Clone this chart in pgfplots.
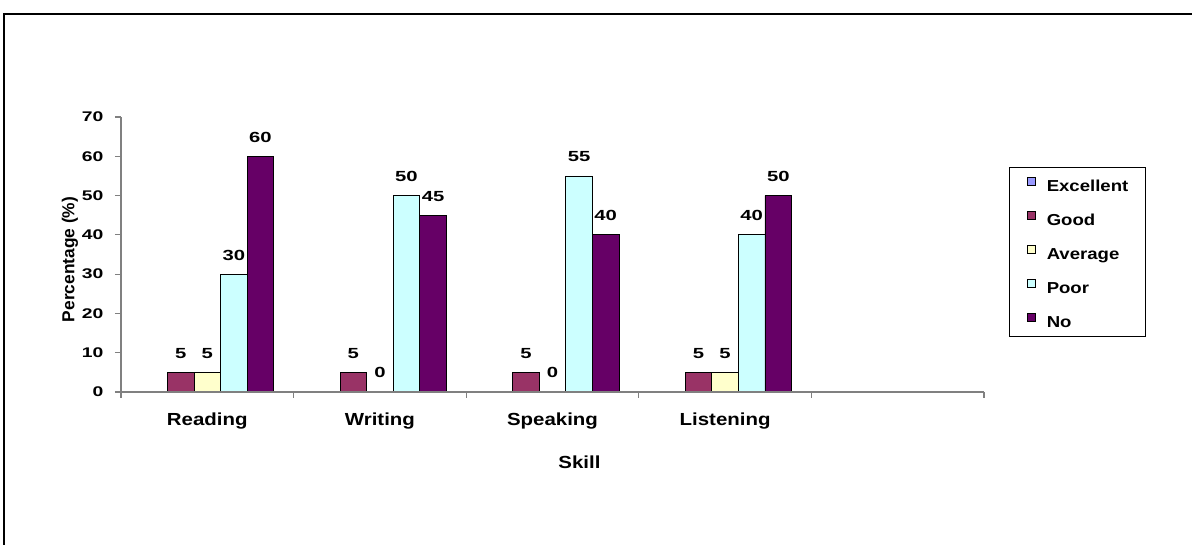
\documentclass[border=0pt]{standalone}
\usepackage{pgfplots}
\pgfplotsset{compat=1.18}
\usepackage{fontspec}
\setmainfont{Liberation Sans}
% wide faces for numbers and for text
\newfontfamily\numfam{Liberation Sans}[FakeStretch=1.38]
\newfontfamily\txtfam{Liberation Sans}[FakeStretch=1.17]
\newcommand\yfont{\numfam\bfseries\fontsize{10.5}{12}\selectfont}
\newcommand\barfont{\numfam\bfseries\fontsize{11}{12}\selectfont}
\newcommand\catfont{\txtfam\bfseries\fontsize{13.1}{15}\selectfont}
\newcommand\legfont{\txtfam\bfseries\fontsize{11.9}{14}\selectfont}
\newcommand\ylabfont{\bfseries\fontsize{13}{15}\selectfont}

\definecolor{cExc}{HTML}{9999FF}
\definecolor{cGood}{HTML}{993366}
\definecolor{cAvg}{HTML}{FFFFCC}
\definecolor{cPoor}{HTML}{CCFFFF}
\definecolor{cNo}{HTML}{660066}
\definecolor{axgray}{HTML}{808080}

\begin{document}
\begin{tikzpicture}[x=0.75pt,y=0.75pt]
\begin{axis}[
  scale only axis, width=647.25pt, height=206.25pt,
  xmin=-0.5, xmax=4.5, ymin=0, ymax=70,
  ybar, bar width=0.154,
  axis on top,
  axis x line*=bottom, axis y line*=left,
  axis line style={axgray, line width=0.9pt, -},
  tick style={axgray, line width=0.9pt},
  tick align=outside, major tick length=4.5pt,
  /pgf/number format/assume math mode=true,
  ytick={0,10,20,30,40,50,60,70},
  yticklabels={0,10,20,30,40,50,60,70},
  yticklabel style={font=\yfont, inner sep=0pt, xshift=-8.5pt},
  xtick={-0.5,0.5,1.5,2.5,3.5,4.5},
  xticklabels={},
  extra x ticks={0,1,2,3},
  extra x tick labels={Reading,Writing,Speaking,Listening},
  extra x tick style={major tick length=0pt,
    xticklabel style={font=\catfont, inner sep=0pt, anchor=base, yshift=-25pt}},
  xlabel={\catfont Skill},
  xlabel style={at={(axis description cs:0.5313,-0.2545)}, anchor=center},
  ylabel={\ylabfont Percentage (\%)},
  ylabel style={at={(axis description cs:-0.0591,0.4818)}, anchor=center},
  every node near coord/.append style={font=\barfont, inner sep=0pt, anchor=base, yshift=10.5pt, black},
  legend style={at={(axis description cs:1.029,0.817)}, anchor=north west,
    draw=black, line width=0.6pt, font=\legfont,
    inner xsep=13pt, inner ysep=6.6pt, row sep=14pt, column sep=8pt,
    nodes={inner sep=0pt, text height=8.5pt, text depth=0pt}},
  legend cell align=left,
  legend image code/.code={\draw[#1, draw=black, line width=0.5pt] (0pt,0.5pt) rectangle (6.5pt,7pt);},
]
\coordinate (O) at (rel axis cs:0,0);
\addplot[draw=none, fill=cExc, bar shift=-0.308] coordinates {(0,0) (1,0) (2,0) (3,0)};
\addplot[draw=black, line width=0.6pt, fill=cGood, bar shift=-0.154, nodes near coords]
  coordinates {(0,5) (1,5) (2,5) (3,5)};
\addplot[draw=black, line width=0.6pt, fill=cAvg, bar shift=0, nodes near coords]
  coordinates {(0,5) (1,0) (2,0) (3,5)};
\addplot[draw=black, line width=0.6pt, fill=cPoor, bar shift=0.154, nodes near coords]
  coordinates {(0,30) (1,50) (2,55) (3,40)};
\addplot[draw=black, line width=0.6pt, fill=cNo, bar shift=0.308, nodes near coords]
  coordinates {(0,60) (1,45) (2,40) (3,50)};
\legend{Excellent,Good,Average,Poor,No}
\end{axis}
% page: 1192 x 545 px, the plot box's lower left corner 121 px from the left and 153 px from the bottom
\pgfresetboundingbox
\path[use as bounding box] ([shift={(-121,-153)}]O) rectangle ([shift={(1071,392)}]O);
\draw[line width=1.5pt, line join=miter]
  ([shift={(-117.3,-160)}]O) -- ([shift={(-117.3,378)}]O) -- ([shift={(1080,378)}]O);
\end{tikzpicture}
\end{document}
